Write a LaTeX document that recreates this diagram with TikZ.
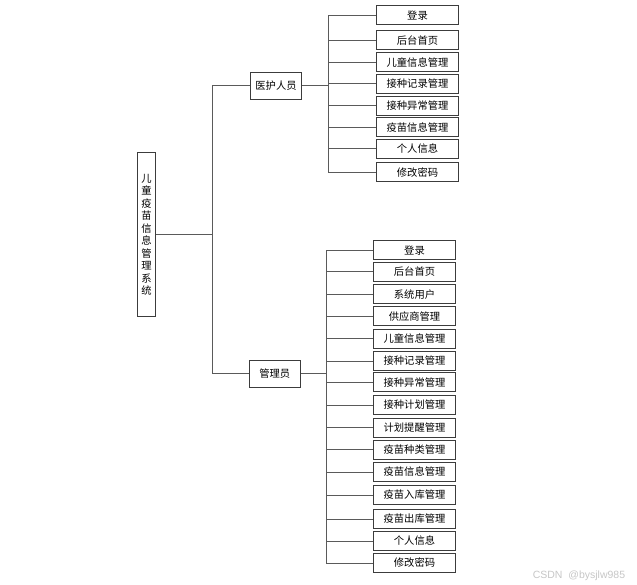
\documentclass[tikz,border=0pt]{standalone}
\usepackage{fontspec}
\newfontfamily\cjk{Noto Sans CJK SC}
\definecolor{boxgray}{HTML}{3C3C3C}
\definecolor{linegray}{HTML}{5A5A5A}
\begin{document}
\begin{tikzpicture}[x=1pt, y=-1pt, line width=1pt,
  box/.style={draw=boxgray, fill=white, inner sep=0pt, font=\cjk\fontsize{10.3}{12.5}\selectfont},
  leaf/.style={box, minimum width=82pt, minimum height=19pt},
  link/.style={draw=linegray, line width=1pt}]
  \useasboundingbox (0,0) rectangle (637,585);
  % 根节点
  \node[box, minimum width=18pt, minimum height=164pt, align=center] (root) at (146.5,234.7)
    {儿\\童\\疫\\苗\\信\\息\\管\\理\\系\\统};
  \node[box, minimum width=51pt, minimum height=27pt] (nurse) at (276,85.8) {医护人员};
  \node[box, minimum width=51pt, minimum height=27pt] (admin) at (274.7,373.8) {管理员};
  \coordinate (rj) at (212.3,234.7);
  \draw[link] (root.east) -- (rj);
  \draw[link] (nurse.west) -- (nurse.west -| rj) -- (admin.west -| rj) -- (admin.west);
  % 医护人员 功能
  \foreach \y/\txt [count=\i] in {15.5/登录, 40.3/后台首页, 62.5/儿童信息管理, 84/接种记录管理,
      106/接种异常管理, 127.5/疫苗信息管理, 149/个人信息, 172.5/修改密码}
    \node[leaf] (t\i) at (417.5,\y) {\txt};
  \coordinate (tbus) at (328,0);
  \draw[link] (nurse.east) -- (nurse.east -| tbus);
  \draw[link] (t1.west -| tbus) -- (t8.west -| tbus);
  \foreach \i in {1,...,8}
    \draw[link] (t\i.west -| tbus) -- (t\i.west);
  % 管理员 功能
  \foreach \y/\txt [count=\i] in {250.3/登录, 272/后台首页, 294.5/系统用户, 316.2/供应商管理,
      338.7/儿童信息管理, 361/接种记录管理, 382.2/接种异常管理, 405/接种计划管理,
      427.7/计划提醒管理, 449.8/疫苗种类管理, 472/疫苗信息管理, 495/疫苗入库管理,
      519/疫苗出库管理, 541/个人信息, 563/修改密码}
    \node[leaf] (m\i) at (414.5,\y) {\txt};
  \coordinate (mbus) at (326,0);
  \draw[link] (admin.east) -- (admin.east -| mbus);
  \draw[link] (m1.west -| mbus) -- (m15.west -| mbus);
  \foreach \i in {1,...,15}
    \draw[link] (m\i.west -| mbus) -- (m\i.west);
  % 水印
  \node[anchor=east, text=gray!45, font=\fontspec{Liberation Sans}\fontsize{10.5}{11}\selectfont] (mark) at (629,575.5) {CSDN\ \ @bysjlw985};
\end{tikzpicture}
\end{document}
